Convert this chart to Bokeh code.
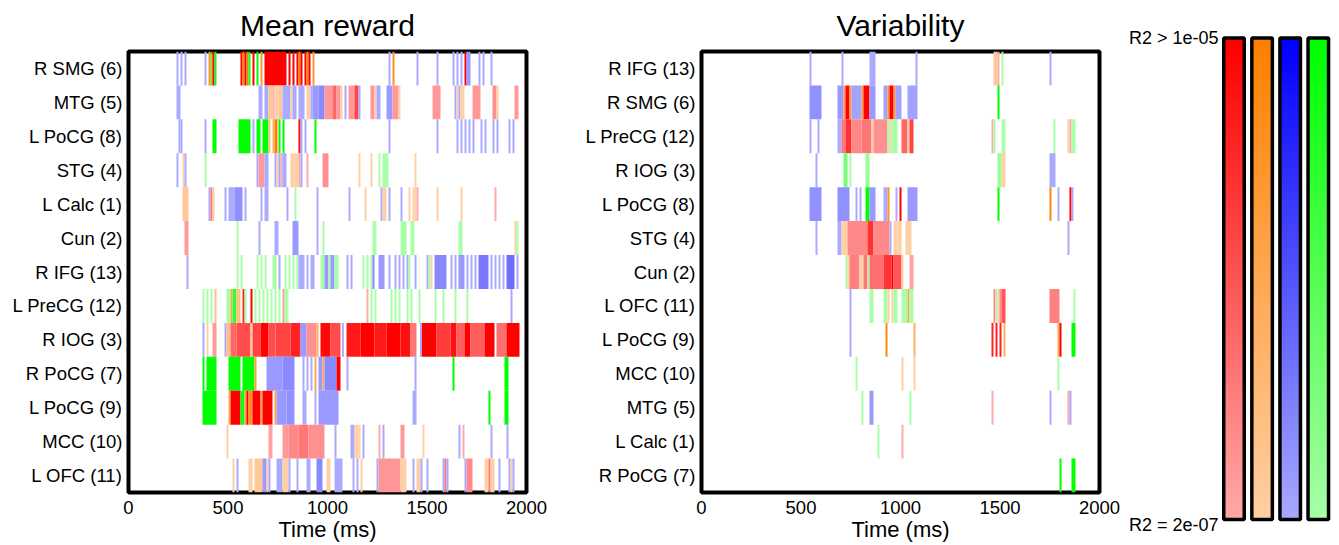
from bokeh.plotting import figure
from bokeh.layouts import row, column
from bokeh.models import FixedTicker, Label, ColumnDataSource, Range1d
from bokeh.embed import file_html
from bokeh.resources import INLINE
import numpy as np

# segment = (start ms, end ms, effect kind, strength 0..1; strength 0 if omitted)
mean_labels = ["R SMG (6)", "MTG (5)", "L PoCG (8)", "STG (4)", "L Calc (1)", "Cun (2)", "R IFG (13)",
               "L PreCG (12)", "R IOG (3)", "R PoCG (7)", "L PoCG (9)", "MCC (10)", "L OFC (11)"]
var_labels = ["R IFG (13)", "R SMG (6)", "L PreCG (12)", "R IOG (3)", "L PoCG (8)", "STG (4)", "Cun (2)",
              "L OFC (11)", "L PoCG (9)", "MCC (10)", "MTG (5)", "L Calc (1)", "R PoCG (7)"]
x_ticks = [0, 500, 1000, 1500, 2000]

m_r_smg = [(240,250,"b"),(260,270,"b"),(280,290,"b"),(380,390,"b"),(400,410,"o",.7),(410,415,"g",1),(415,420,"o",1),
           (420,430,"r",1),(430,440,"g",.9),(560,570,"r",1),(570,580,"o",1),(580,590,"r",1),(590,600,"o",1),(600,610,"g",.9),
           (620,630,"r",1),(640,650,"g",1),(660,670,"o",.7),(680,790,"r",1),(800,810,"r",1),(820,830,"r",1),(840,850,"r",1),
           (850,860,"o",1),(860,870,"r",1),(880,890,"r",1),(890,900,"o",1),(900,910,"r",1),(920,930,"o",.7),
           (1300,1310,"b"),(1320,1330,"o",.8),(1440,1450,"b"),(1540,1550,"b"),(1620,1630,"b"),(1640,1650,"b"),(1660,1670,"b"),
           (1680,1690,"r",1),(1690,1710,"b",.1),(1750,1760,"b"),(1770,1780,"b"),(1810,1820,"b")]
m_mtg = [(240,260,"b"),(650,670,"b"),(680,700,"b"),(700,720,"o",.1),(720,730,"r"),(730,750,"o"),(750,770,"o",.1),(770,810,"b"),
         (810,820,"o"),(820,840,"b"),(850,880,"b"),(890,910,"o"),(910,920,"b"),(920,950,"b",.1),(950,980,"b",.2),(980,1020,"r",.1),
         (1020,1040,"r",.4),(1040,1060,"r",.1),(1060,1070,"o"),(1080,1090,"b"),(1100,1130,"r",.1),(1130,1150,"r",.6),(1150,1160,"b"),
         (1210,1230,"r",.1),(1230,1240,"o"),(1240,1260,"b"),(1290,1320,"b",.1),(1320,1350,"r",.1),(1350,1360,"o"),(1520,1560,"r",.1),
         (1630,1640,"b"),(1640,1650,"o"),(1650,1660,"b"),(1660,1680,"o"),(1720,1760,"r",.1),(1820,1840,"r",.15),(1840,1850,"o"),
         (1930,1950,"r",.1)]
m_l_pocg8 = [(250,260,"b"),(260,270,"b"),(380,390,"b"),(420,440,"g",1),(550,610,"g",1),(620,630,"b"),(640,660,"g",1),(670,700,"g",1),
             (700,710,"o",.2),(720,730,"o",.4),(730,745,"o",1),(750,760,"g",1),(770,780,"g",1),(850,860,"r",1),(860,870,"b"),
             (880,890,"b"),(930,940,"g",1),(1300,1310,"b"),(1540,1550,"b"),(1640,1650,"b"),(1660,1670,"b"),(1680,1690,"b"),
             (1700,1710,"b"),(1720,1730,"b"),(1760,1770,"b"),(1780,1790,"b"),(1820,1830,"b"),(1840,1850,"b"),(1900,1910,"b"),(1920,1930,"b")]
m_stg = [(240,250,"b"),(270,280,"o"),(280,290,"b"),(380,390,"g"),(640,650,"b"),(650,680,"r",.1),(680,700,"b"),(730,740,"b"),
         (740,750,"o"),(750,760,"b"),(760,770,"r"),(770,790,"b"),(810,830,"o"),(830,850,"o"),(850,860,"r"),(860,870,"b"),
         (890,900,"r"),(970,1000,"r",.15),(1150,1160,"o"),(1210,1220,"o"),(1250,1260,"g"),(1270,1300,"g"),(1430,1440,"o")]
m_l_calc = [(270,300,"o",.1),(400,410,"b"),(410,420,"r",.3),(420,430,"o"),(480,490,"b"),(500,530,"b"),(530,570,"b",.15),(580,590,"b"),
            (660,670,"b"),(680,700,"b"),(790,800,"b"),(830,840,"g"),(940,950,"b"),(1100,1110,"b"),(1180,1190,"o"),(1260,1270,"b"),
            (1270,1290,"o"),(1300,1310,"b"),(1360,1370,"b"),(1400,1410,"o"),(1420,1430,"o"),(1430,1440,"o"),(1440,1450,"r"),
            (1540,1550,"o"),(1660,1670,"o"),(1830,1840,"r")]
m_cun = [(280,300,"r",.1),(540,550,"g"),(650,660,"b"),(730,750,"b"),(820,850,"b",.1),(940,950,"b"),(970,980,"g"),(1220,1240,"g"),
         (1360,1390,"g"),(1410,1430,"g"),(1650,1670,"g"),(1930,1940,"o"),(1940,1950,"g")]
m_r_ifg = [(290,300,"b"),(540,550,"g"),(560,570,"g"),(640,650,"g"),(660,670,"g"),(680,690,"g"),(720,740,"g"),(750,760,"b"),
           (780,790,"g"),(800,810,"g"),(820,830,"g"),(840,850,"g"),(850,880,"b"),(890,900,"b"),(910,930,"b"),(960,980,"g"),
           (980,1000,"b",.1),(1000,1010,"g"),(1010,1030,"b",.1),(1030,1050,"g"),(1090,1100,"b"),(1110,1120,"b"),(1170,1180,"g"),
           (1190,1200,"g"),(1210,1220,"g"),(1220,1230,"b",.2),(1250,1280,"b",.1),(1300,1310,"b"),(1330,1340,"b"),(1350,1360,"b"),
           (1370,1380,"b"),(1390,1400,"b"),(1400,1410,"g"),(1430,1440,"b"),(1490,1500,"b"),(1500,1510,"g"),(1510,1520,"o"),
           (1530,1590,"b",.2),(1610,1620,"b"),(1630,1640,"b"),(1650,1680,"b",.1),(1690,1700,"b"),(1710,1720,"b"),(1730,1740,"b"),
           (1750,1800,"b",.3),(1810,1820,"b"),(1830,1840,"b"),(1850,1860,"b"),(1870,1880,"b"),(1890,1930,"b",.35),(1940,1950,"b")]
m_l_precg = [(370,380,"g"),(390,400,"g"),(410,420,"g"),(430,440,"o",.2),(490,510,"g"),(510,520,"o",.5),(520,540,"g",.7),(540,560,"o",.2),
             (570,580,"r",.8),(580,590,"g"),(610,620,"r",1),(630,640,"g"),(650,660,"g"),(670,680,"g"),(690,700,"g"),(710,720,"g"),
             (730,740,"g"),(750,760,"g"),(770,780,"r",.1),(780,800,"g"),(1190,1200,"r"),(1210,1220,"g"),(1230,1240,"g"),(1310,1320,"g"),
             (1330,1340,"g"),(1350,1360,"g"),(1390,1400,"g"),(1410,1420,"g"),(1450,1460,"g"),(1530,1540,"g"),(1570,1580,"g"),
             (1630,1640,"g"),(1690,1700,"g"),(1910,1920,"b")]
m_r_iog = [(370,380,"b"),(390,400,"o"),(420,440,"r",.1),(480,490,"b"),(490,510,"o",.2),(510,540,"r",.4),(540,610,"r",.55),(610,620,"o",.1),
           (620,660,"r",.6),(660,700,"r",1),(700,735,"r",.55),(735,810,"r",.6),(810,860,"r",.8),(860,890,"b",.1),(890,940,"r",.15),
           (940,950,"o",.4),(960,1010,"r",.95),(1010,1060,"r",.55),(1067,1077,"b"),(1090,1160,"r",.85),(1160,1230,"r",1),(1230,1290,"r",.85),
           (1290,1360,"r",1),(1360,1410,"r",.9),(1410,1440,"r",.3),(1457,1467,"b"),(1467,1540,"r",1),(1540,1610,"r",.65),(1610,1640,"r",.9),
           (1640,1680,"r",.45),(1680,1710,"r",1),(1710,1780,"r",.45),(1780,1830,"r",1),(1840,1890,"r",.35),(1890,1955,"r",1)]
m_r_pocg = [(370,380,"g",1),(390,440,"g",1),(500,560,"g",1),(570,630,"g",1),(630,640,"o",.6),(690,770,"b",.1),(770,830,"b",.18),
            (870,880,"b"),(890,900,"b"),(910,920,"b"),(930,940,"o",.5),(950,970,"b",.1),(970,980,"o",.5),(980,1040,"b",.2),(1040,1060,"r",1),
            (1090,1100,"b"),(1430,1440,"b"),(1620,1630,"g",1),(1880,1900,"g",1)]
m_l_pocg9 = [(370,440,"g",1),(500,510,"o",.5),(510,560,"r",1),(560,580,"g",.9),(580,590,"o",.7),(590,600,"r",1),(600,620,"o",.8),
             (620,660,"r",1),(660,670,"o",.6),(670,720,"r",1),(730,740,"o",.6),(740,790,"b",.1),(790,830,"b",.15),(870,890,"b"),(930,940,"b"),
             (950,1050,"b",.1),(1420,1440,"b"),(1800,1810,"g",1),(1880,1900,"g",1)]
m_mcc = [(490,500,"o"),(700,720,"r",.05),(770,800,"r",.1),(800,850,"r",.2),(850,900,"r",.3),(900,980,"r",.15),(1030,1040,"b"),
         (1110,1130,"b"),(1130,1150,"o"),(1150,1160,"o"),(1170,1180,"b"),(1250,1260,"r"),(1270,1280,"b"),(1360,1380,"r",.1),
         (1470,1480,"o"),(1650,1660,"b"),(1670,1680,"r"),(1810,1820,"b"),(1890,1900,"b")]
m_l_ofc = [(520,530,"o"),(540,550,"b"),(600,620,"o"),(630,670,"o",.1),(670,690,"b",.1),(690,700,"o"),(700,710,"b"),(740,770,"b"),
           (770,800,"o"),(800,810,"b"),(840,850,"b"),(890,910,"b"),(940,970,"b",.2),(990,1010,"o"),(1030,1070,"b"),(1120,1130,"b"),
           (1140,1150,"b"),(1160,1170,"o"),(1240,1250,"b"),(1250,1360,"r",.12),(1360,1390,"o"),(1420,1430,"b"),(1440,1460,"o"),
           (1460,1470,"b"),(1490,1500,"b"),(1570,1580,"b"),(1580,1590,"r",.3),(1590,1600,"b"),(1680,1690,"b"),(1690,1720,"r",.2),
           (1780,1800,"o"),(1800,1810,"r",.3),(1810,1830,"o"),(1850,1860,"b"),(1900,1910,"b"),(1910,1920,"o"),(1920,1930,"b")]

v_r_ifg = [(540,550,"b"),(700,710,"b"),(840,870,"b"),(1070,1080,"b"),(1460,1480,"o",.1),(1480,1490,"r"),(1500,1510,"g"),(1740,1750,"b")]
v_r_smg = [(540,600,"b",.15),(680,710,"b",.1),(710,720,"o",.7),(720,740,"r",1),(740,750,"o",.7),(750,800,"b",.05),(800,810,"o",.7),(810,840,"r",1),
           (840,870,"b",.1),(910,930,"b",.05),(930,940,"o",.8),(940,960,"r",1),(960,970,"o",.8),(970,1000,"b",.05),(1030,1080,"b",.05),(1480,1490,"g",1)]
v_l_precg = [(540,550,"b"),(580,590,"b"),(680,700,"b"),(700,720,"r",.3),(720,750,"r",.7),(750,800,"r",.2),(800,850,"r",.3),(850,860,"o"),
             (860,930,"r",.15),(930,940,"g"),(940,950,"o"),(950,980,"g"),(1000,1030,"r",.4),(1030,1040,"o"),(1040,1060,"r",.6),(1450,1460,"r"),
             (1460,1470,"g"),(1500,1520,"g"),(1760,1770,"g"),(1830,1840,"o"),(1840,1850,"r"),(1850,1870,"g")]
v_r_iog = [(570,580,"b"),(710,730,"g",.3),(740,750,"g"),(820,840,"g",.1),(1480,1500,"g",.1),(1500,1520,"o"),(1740,1770,"b")]
v_l_pocg = [(540,600,"b",.15),(680,740,"b",.15),(770,780,"b"),(790,800,"b"),(820,840,"g",1),(840,870,"b",.1),(910,930,"b"),(930,940,"o",.8),
            (970,980,"b"),(990,1000,"r",1),(1030,1080,"b",.1),(1480,1490,"g",1),(1740,1750,"o",.9),(1780,1790,"b"),(1840,1850,"r",1),(1850,1860,"b")]
v_stg = [(570,580,"b"),(680,700,"b"),(700,730,"o"),(730,830,"r",.2),(830,860,"r",.7),(860,940,"r",.2),(940,950,"b"),(960,980,"o"),
         (980,1000,"o"),(1020,1050,"o"),(1830,1840,"b")]
v_cun = [(720,730,"g"),(730,740,"o"),(740,790,"r",.25),(790,810,"o"),(810,830,"r",.3),(830,840,"g"),(840,910,"r",.35),(910,950,"r",.7),
         (950,960,"r",1),(960,1000,"r",.5),(1000,1010,"o"),(1040,1060,"r",.05)]
v_l_ofc = [(740,750,"b"),(840,860,"g"),(910,930,"g"),(930,940,"o"),(950,960,"o"),(960,980,"g"),(1000,1030,"g"),(1030,1040,"o",.5),(1040,1060,"g"),
           (1460,1470,"r",.2),(1470,1480,"g"),(1480,1490,"o"),(1490,1500,"r",.2),(1500,1520,"r",.5),(1740,1790,"r",.25),(1860,1870,"g")]
v_l_pocg9 = [(740,750,"b"),(920,930,"o",.9),(1060,1070,"o",.4),(1450,1460,"r",.8),(1470,1480,"r",.8),(1490,1500,"r",.8),(1510,1520,"o",.4),
             (1780,1790,"o",.5),(1790,1800,"r",1),(1850,1870,"g",1)]
v_mcc = [(770,780,"g"),(1000,1010,"o"),(1060,1070,"o"),(1780,1790,"g")]
v_mtg = [(800,810,"g"),(840,860,"b",.1),(1040,1050,"g"),(1450,1460,"r"),(1740,1750,"b"),(1830,1840,"r"),(1840,1850,"b")]
v_l_calc = [(880,890,"g"),(1000,1010,"r")]
v_r_pocg = [(1790,1800,"g",1),(1850,1870,"g",1)]

mean_rows = [m_r_smg, m_mtg, m_l_pocg8, m_stg, m_l_calc, m_cun, m_r_ifg, m_l_precg, m_r_iog, m_r_pocg, m_l_pocg9, m_mcc, m_l_ofc]
var_rows = [v_r_ifg, v_r_smg, v_l_precg, v_r_iog, v_l_pocg, v_stg, v_cun, v_l_ofc, v_l_pocg9, v_mcc, v_mtg, v_l_calc, v_r_pocg]

STRONG = {"r": (255, 0, 0), "o": (255, 128, 0), "b": (0, 0, 255), "g": (0, 255, 0)}
FAINT = {"r": (255, 170, 170), "o": (255, 208, 165), "b": (170, 170, 255), "g": (168, 255, 168)}
FONT = "Liberation Sans"
FIG_H = 544
TIME_CAL = 1.005  # calibration of the times


def shade(kind, s):
    a, b = FAINT[kind], STRONG[kind]
    return "#%02x%02x%02x" % tuple(int(round(a[i] + (b[i] - a[i]) * s)) for i in range(3))


def panel(title, labels, rows, width, left, right):
    p = figure(width=width, height=FIG_H, output_backend="svg", toolbar_location=None,
               x_range=Range1d(0, 2000), y_range=Range1d(len(labels), 0),
               min_border_left=left, min_border_right=right, min_border_top=51, min_border_bottom=47,
               title=title)
    p.title.align = "center"
    p.title.text_font = FONT
    p.title.text_font_size = "30px"
    p.title.text_font_style = "normal"
    p.title.text_color = "black"
    p.title.standoff = 15
    p.title.vertical_align = "top"
    p.grid.visible = False
    p.outline_line_color = "black"
    p.outline_line_width = 4
    p.outline_line_alpha = 1
    src = {"l": [], "r": [], "t": [], "b": [], "c": []}
    for i, segs in enumerate(rows):
        for seg in segs:
            st, en, kind = seg[:3]
            s = seg[3] if len(seg) > 3 else 0
            src["l"].append(st * TIME_CAL); src["r"].append(en * TIME_CAL)
            src["t"].append(i); src["b"].append(i + 1)
            src["c"].append(shade(kind, s))
    p.quad(left="l", right="r", top="t", bottom="b", fill_color="c", line_color=None, source=ColumnDataSource(src))
    for ax in (p.xaxis[0], p.yaxis[0]):
        ax.axis_line_color = None
        ax.major_tick_line_color = None
        ax.minor_tick_line_color = None
        ax.major_tick_out = 0
        ax.major_tick_in = 0
        ax.minor_tick_out = 0
        ax.minor_tick_in = 0
        ax.major_label_text_font = FONT
        ax.major_label_text_font_size = "18.5px"
        ax.major_label_text_color = "black"
    p.xaxis[0].ticker = FixedTicker(ticks=x_ticks)
    p.xaxis[0].major_label_standoff = 8
    p.xaxis[0].axis_label = "Time (ms)"
    p.xaxis[0].axis_label_text_font = FONT
    p.xaxis[0].axis_label_text_font_size = "22px"
    p.xaxis[0].axis_label_text_font_style = "normal"
    p.xaxis[0].axis_label_text_color = "black"
    p.xaxis[0].axis_label_standoff = 0
    p.yaxis[0].ticker = FixedTicker(ticks=[i + 0.5 for i in range(len(labels))])
    p.yaxis[0].major_label_overrides = {i + 0.5: lab for i, lab in enumerate(labels)}
    p.yaxis[0].major_label_standoff = 6
    return p


p1 = panel("Mean reward", mean_labels, mean_rows, 570, 128, 44)
p2 = panel("Variability", var_labels, var_rows, 550, 131, 21)

# colour scale
scale_kinds = ["r", "o", "b", "g"]
scale_levels = [i / 60 for i in range(61)]
p3 = figure(width=211, height=FIG_H, output_backend="svg", toolbar_location=None,
            x_range=Range1d(-4.04, 3.47), y_range=Range1d(-0.0519, 1.0779),
            min_border_left=0, min_border_right=0, min_border_top=0, min_border_bottom=0)
p3.axis.visible = False
p3.grid.visible = False
p3.outline_line_color = None
half = 0.365
for i, k in enumerate(scale_kinds):
    lv = np.array(scale_levels)
    p3.quad(left=i - half, right=i + half, bottom=lv[:-1], top=lv[1:],
            fill_color=[shade(k, v) for v in lv[1:]], line_color=[shade(k, v) for v in lv[1:]], line_width=1)
    p3.quad(left=i - half, right=i + half, bottom=0, top=1, fill_color=None, line_color="black", line_width=3.5)
p3.add_layout(Label(x=-0.55, y=1, text="R2 > 1e-05", text_align="right", text_baseline="middle",
                    text_font=FONT, text_font_size="18px", text_color="black"))
p3.add_layout(Label(x=-0.55, y=0, y_offset=-5, text="R2 = 2e-07", text_align="right", text_baseline="middle",
                    text_font=FONT, text_font_size="18px", text_color="black"))

page = row(p1, p2, column(p3), spacing=0)
open("out.html", "w").write(file_html(page, INLINE))
